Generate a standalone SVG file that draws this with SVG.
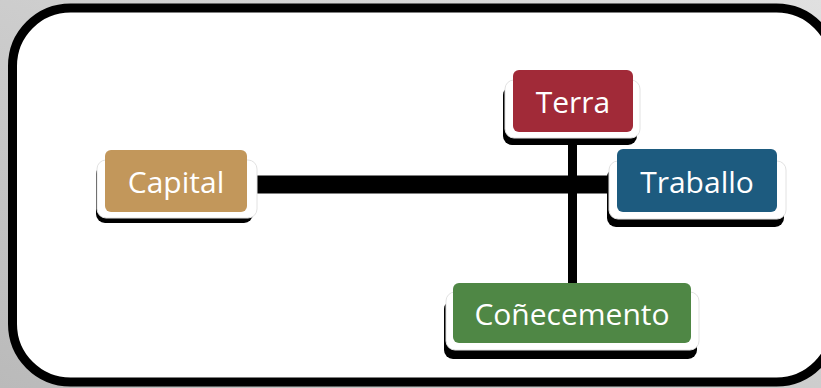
<svg xmlns="http://www.w3.org/2000/svg" width="821" height="388" viewBox="0 0 821 388">
<defs>
<linearGradient id="bg" x1="0" y1="1" x2="1" y2="0">
<stop offset="0" stop-color="#bababa"/>
<stop offset="1" stop-color="#e0e0e0"/>
</linearGradient>
<style>
.shadow{fill:#000}
.pad{fill:#fff;stroke:#e2e2e2;stroke-width:1}
.lbl{font-family:"Open Sans","Noto Sans",sans-serif;font-size:30px;fill:#fff;text-anchor:middle}
.conn{stroke:#000;fill:none}
</style>
</defs>
<rect x="0" y="0" width="821" height="388" fill="url(#bg)"/>
<rect x="12.5" y="8" width="822" height="374" rx="58" ry="58" fill="#fff" stroke="#000" stroke-width="9"/>
<g id="connectors">
<line class="conn" x1="257" y1="184.5" x2="612" y2="184.5" stroke-width="18"/>
<line class="conn" x1="572.5" y1="140" x2="572.5" y2="284" stroke-width="9"/>
</g>
<g id="capital">
<rect class="shadow" x="96" y="165" width="157" height="58" rx="9"/>
<rect class="pad" x="97" y="160" width="160" height="58" rx="9"/>
<rect x="105" y="150" width="142" height="62" rx="6" fill="#C2975B"/>
<text class="lbl" x="176" y="193">Capital</text>
</g>
<g id="terra">
<rect class="shadow" x="503" y="86" width="134" height="59" rx="9"/>
<rect class="pad" x="505" y="80" width="135" height="58" rx="9"/>
<rect x="513" y="70" width="120" height="62" rx="6" fill="#A12A38"/>
<text class="lbl" x="573" y="113">Terra</text>
</g>
<g id="traballo">
<rect class="shadow" x="607" y="168" width="177" height="59" rx="9"/>
<rect class="pad" x="609" y="161" width="177" height="58" rx="9"/>
<rect x="617" y="149" width="160" height="63" rx="6" fill="#1D5B7F"/>
<text class="lbl" x="697" y="193">Traballo</text>
</g>
<g id="conecemento">
<rect class="shadow" x="444" y="300" width="253" height="59" rx="9"/>
<rect class="pad" x="446" y="292" width="253" height="58" rx="9"/>
<rect x="453" y="283" width="238" height="60" rx="6" fill="#4F8745"/>
<text class="lbl" x="572" y="325">Coñecemento</text>
</g>
</svg>
